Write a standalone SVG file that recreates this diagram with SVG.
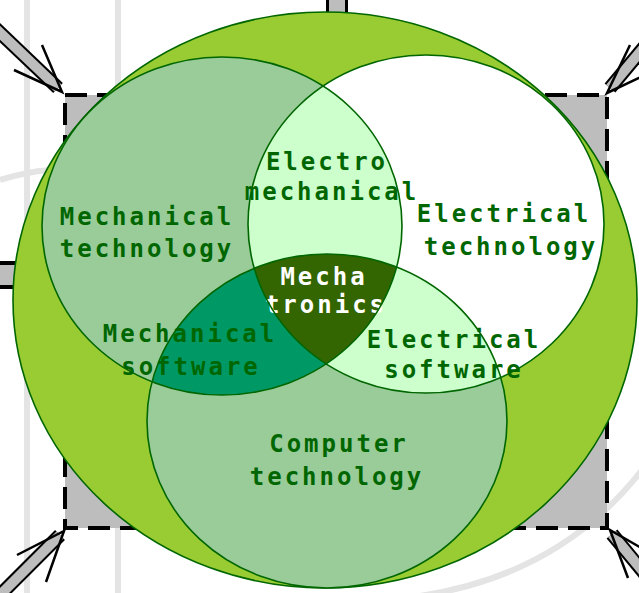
<svg xmlns="http://www.w3.org/2000/svg" width="639" height="593" viewBox="0 0 639 593">
<style>
.bg{fill:none;stroke:#e4e4e4;stroke-width:6}
.sh-o{stroke:#000;stroke-width:14;fill:none}
.sh-i{stroke:#bdbdbd;stroke-width:10;fill:none}
.barb{stroke:#000;stroke-width:2.5;fill:none}
.edge{fill:none;stroke:#006600;stroke-width:1.6}
.t{font-family:"DejaVu Sans Mono","Liberation Mono",monospace;font-weight:bold;font-size:24px;letter-spacing:3px;fill:#006600;text-anchor:middle}
.w{fill:#ffffff}
</style>
<defs>
<clipPath id="cTL"><ellipse cx="222" cy="226" rx="180" ry="169"/></clipPath>
<clipPath id="cTR"><ellipse cx="426" cy="224" rx="178" ry="169"/></clipPath>
<clipPath id="cB"><ellipse cx="327" cy="421" rx="180" ry="167"/></clipPath>
</defs>
<rect width="639" height="593" fill="#ffffff"/>
<g id="background">
<line class="bg" x1="27" y1="0" x2="27" y2="593"/>
<line class="bg" x1="118" y1="0" x2="118" y2="593"/>
<path class="bg" d="M0,180 Q25,172 50,170"/>
<path class="bg" d="M420,596 Q560,575 642,470"/>
</g>
<g id="frame">
<rect x="65" y="95" width="542" height="433" fill="#bdbdbd" stroke="#000" stroke-width="4" stroke-dasharray="22 10"/>
</g>
<g id="arrows">
<line class="sh-o" x1="-5" y1="28" x2="58" y2="88"/><line class="sh-i" x1="-5" y1="28" x2="58" y2="88"/>
<polyline class="barb" points="42,45 62,92 14,70"/>
<line class="sh-o" x1="650" y1="40" x2="610" y2="88"/><line class="sh-i" x1="650" y1="40" x2="610" y2="88"/>
<polyline class="barb" points="630,45 607,93 645,75"/>
<line class="sh-o" x1="-5" y1="600" x2="60" y2="535"/><line class="sh-i" x1="-5" y1="600" x2="60" y2="535"/>
<polyline class="barb" points="17,555 64,531 46,582"/>
<line class="sh-o" x1="650" y1="580" x2="612" y2="534"/><line class="sh-i" x1="650" y1="580" x2="612" y2="534"/>
<polyline class="barb" points="628,578 610,530 645,550"/>
<line x1="337" y1="0" x2="337" y2="95" stroke="#000" stroke-width="22"/><line x1="337" y1="0" x2="337" y2="95" stroke="#bdbdbd" stroke-width="16"/>
<line x1="0" y1="275" x2="65" y2="275" stroke="#000" stroke-width="28"/><line x1="0" y1="275" x2="65" y2="275" stroke="#bdbdbd" stroke-width="20"/>
</g>
<g id="mechatronics-field">
<ellipse cx="325" cy="300" rx="312" ry="288" fill="#99cc33" stroke="#006600" stroke-width="1.6"/>
</g>
<g id="mechanical-technology"><ellipse cx="222" cy="226" rx="180" ry="169" fill="#99cc99"/></g>
<g id="electrical-technology"><ellipse cx="426" cy="224" rx="178" ry="169" fill="#ffffff"/></g>
<g id="computer-technology"><ellipse cx="327" cy="421" rx="180" ry="167" fill="#99cc99"/></g>
<g id="electromechanical" clip-path="url(#cTL)"><ellipse cx="426" cy="224" rx="178" ry="169" fill="#ccffcc"/></g>
<g id="electrical-software" clip-path="url(#cTR)"><ellipse cx="327" cy="421" rx="180" ry="167" fill="#ccffcc"/></g>
<g id="mechanical-software" clip-path="url(#cTL)"><ellipse cx="327" cy="421" rx="180" ry="167" fill="#009966"/></g>
<g id="mechatronics" clip-path="url(#cTL)"><g clip-path="url(#cTR)"><ellipse cx="327" cy="421" rx="180" ry="167" fill="#336600"/></g></g>
<g id="labels">
<text class="t" x="327" y="170">Electro</text>
<text class="t" x="332" y="200">mechanical</text>
<text class="t" x="147" y="225">Mechanical</text>
<text class="t" x="147" y="257">technology</text>
<text class="t" x="504" y="222">Electrical</text>
<text class="t" x="511" y="255">technology</text>
<text class="t w" x="324" y="285">Mecha</text>
<text class="t w" x="326" y="313">tronics</text>
<text class="t" x="190" y="342">Mechanical</text>
<text class="t" x="191" y="375">software</text>
<text class="t" x="454" y="348">Electrical</text>
<text class="t" x="454" y="378">software</text>
<text class="t" x="339" y="452">Computer</text>
<text class="t" x="337" y="485">technology</text>
</g>
<g id="edges">
<ellipse class="edge" cx="222" cy="226" rx="180" ry="169"/>
<ellipse class="edge" cx="426" cy="224" rx="178" ry="169"/>
<ellipse class="edge" cx="327" cy="421" rx="180" ry="167"/>
</g>
</svg>
